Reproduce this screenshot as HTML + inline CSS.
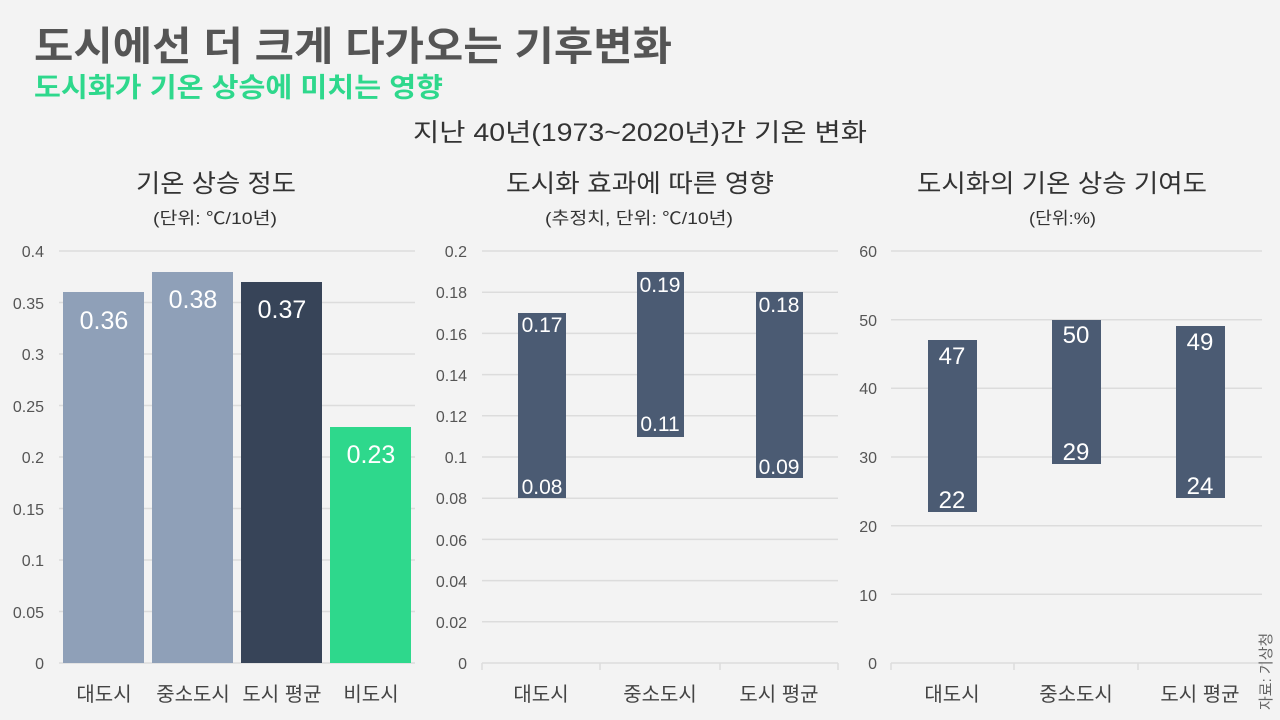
<!DOCTYPE html>
<html><head><meta charset="utf-8"><style>
body{margin:0;background:#f3f3f3;}
svg{display:block;font-family:"Liberation Sans","Noto Sans CJK KR",sans-serif;}
</style></head><body>
<svg width="1280" height="720" viewBox="0 0 1280 720">
<rect width="1280" height="720" fill="#f3f3f3"/>
<text x="34" y="60" font-size="40" font-weight="bold" fill="#555" textLength="638" lengthAdjust="spacingAndGlyphs">도시에선 더 크게 다가오는 기후변화</text>
<text x="34" y="97" font-size="27" font-weight="bold" fill="#2ed88c" textLength="409" lengthAdjust="spacingAndGlyphs">도시화가 기온 상승에 미치는 영향</text>
<text x="413" y="141" font-size="25" fill="#333" textLength="454" lengthAdjust="spacingAndGlyphs">지난 40년(1973~2020년)간 기온 변화</text>

<g fill="#333">
<text x="136" y="192" font-size="25" textLength="160" lengthAdjust="spacingAndGlyphs">기온 상승 정도</text>
<text x="153" y="224" font-size="17" textLength="124" lengthAdjust="spacingAndGlyphs">(단위: ℃/10년)</text>
<text x="506" y="192" font-size="25" textLength="268" lengthAdjust="spacingAndGlyphs">도시화 효과에 따른 영향</text>
<text x="545" y="224" font-size="17" textLength="188" lengthAdjust="spacingAndGlyphs">(추정치, 단위: ℃/10년)</text>
<text x="917" y="192" font-size="25" textLength="290" lengthAdjust="spacingAndGlyphs">도시화의 기온 상승 기여도</text>
<text x="1029" y="224" font-size="17" textLength="67" lengthAdjust="spacingAndGlyphs">(단위:%)</text>
</g>

<!-- chart 1 -->
<g stroke="#dcdcdc" stroke-width="1.5">
<line x1="59" x2="415" y1="251" y2="251"/><line x1="59" x2="415" y1="302.5" y2="302.5"/>
<line x1="59" x2="415" y1="354" y2="354"/><line x1="59" x2="415" y1="405.5" y2="405.5"/>
<line x1="59" x2="415" y1="457" y2="457"/><line x1="59" x2="415" y1="508.5" y2="508.5"/>
<line x1="59" x2="415" y1="560" y2="560"/><line x1="59" x2="415" y1="611.5" y2="611.5"/>
<line x1="59" x2="415" y1="663" y2="663"/>
</g>
<g font-size="16" fill="#555" text-anchor="end">
<text x="44" y="257">0.4</text><text x="44" y="309">0.35</text><text x="44" y="360">0.3</text>
<text x="44" y="412">0.25</text><text x="44" y="463">0.2</text><text x="44" y="515">0.15</text>
<text x="44" y="566">0.1</text><text x="44" y="618">0.05</text><text x="44" y="669">0</text>
</g>
<rect x="63" y="292" width="81" height="371" fill="#8fa0b8"/>
<rect x="152" y="272" width="81" height="391" fill="#8fa0b8"/>
<rect x="241" y="282" width="81" height="381" fill="#374458"/>
<rect x="330" y="427" width="81" height="236" fill="#2ed88c"/>
<g font-size="25" fill="#fff" text-anchor="middle">
<text x="104" y="329">0.36</text><text x="193" y="308">0.38</text>
<text x="282" y="318">0.37</text><text x="371" y="463">0.23</text>
</g>
<g font-size="20" fill="#444" text-anchor="middle">
<text x="104" y="701">대도시</text><text x="193" y="701">중소도시</text>
<text x="282" y="701">도시 평균</text><text x="371" y="701">비도시</text>
</g>

<!-- chart 2 -->
<g stroke="#dcdcdc" stroke-width="1.5">
<line x1="482" x2="838" y1="251" y2="251"/><line x1="482" x2="838" y1="292.2" y2="292.2"/>
<line x1="482" x2="838" y1="333.4" y2="333.4"/><line x1="482" x2="838" y1="374.6" y2="374.6"/>
<line x1="482" x2="838" y1="415.8" y2="415.8"/><line x1="482" x2="838" y1="457" y2="457"/>
<line x1="482" x2="838" y1="498.2" y2="498.2"/><line x1="482" x2="838" y1="539.4" y2="539.4"/>
<line x1="482" x2="838" y1="580.6" y2="580.6"/><line x1="482" x2="838" y1="621.8" y2="621.8"/>
<line x1="482" x2="838" y1="663" y2="663"/>
<line x1="482" x2="482" y1="663" y2="670"/><line x1="600" x2="600" y1="663" y2="670"/>
<line x1="720" x2="720" y1="663" y2="670"/><line x1="838" x2="838" y1="663" y2="670"/>
</g>
<g font-size="16" fill="#555" text-anchor="end">
<text x="467" y="257">0.2</text><text x="467" y="298">0.18</text><text x="467" y="340">0.16</text>
<text x="467" y="381">0.14</text><text x="467" y="422">0.12</text><text x="467" y="463">0.1</text>
<text x="467" y="504">0.08</text><text x="467" y="546">0.06</text><text x="467" y="587">0.04</text>
<text x="467" y="628">0.02</text><text x="467" y="669">0</text>
</g>
<rect x="518" y="313" width="48" height="185" fill="#4b5b73"/>
<rect x="637" y="272" width="47" height="165" fill="#4b5b73"/>
<rect x="756" y="292" width="47" height="186" fill="#4b5b73"/>
<g font-size="21" fill="#fff" text-anchor="middle">
<text x="542" y="332">0.17</text><text x="542" y="494">0.08</text>
<text x="660" y="292">0.19</text><text x="660" y="431">0.11</text>
<text x="779" y="312">0.18</text><text x="779" y="474">0.09</text>
</g>
<g font-size="20" fill="#444" text-anchor="middle">
<text x="541" y="701">대도시</text><text x="660" y="701">중소도시</text><text x="779" y="701">도시 평균</text>
</g>

<!-- chart 3 -->
<g stroke="#dcdcdc" stroke-width="1.5">
<line x1="891" x2="1262" y1="251" y2="251"/><line x1="891" x2="1262" y1="319.7" y2="319.7"/>
<line x1="891" x2="1262" y1="388.3" y2="388.3"/><line x1="891" x2="1262" y1="457" y2="457"/>
<line x1="891" x2="1262" y1="525.7" y2="525.7"/><line x1="891" x2="1262" y1="594.3" y2="594.3"/>
<line x1="891" x2="1262" y1="663" y2="663"/>
<line x1="891" x2="891" y1="663" y2="670"/><line x1="1014" x2="1014" y1="663" y2="670"/>
<line x1="1138" x2="1138" y1="663" y2="670"/><line x1="1262" x2="1262" y1="663" y2="670"/>
</g>
<g font-size="16" fill="#555" text-anchor="end">
<text x="877" y="257">60</text><text x="877" y="326">50</text><text x="877" y="394">40</text>
<text x="877" y="463">30</text><text x="877" y="532">20</text><text x="877" y="601">10</text>
<text x="877" y="669">0</text>
</g>
<rect x="928" y="340" width="49" height="172" fill="#4b5b73"/>
<rect x="1052" y="320" width="49" height="144" fill="#4b5b73"/>
<rect x="1176" y="326" width="49" height="172" fill="#4b5b73"/>
<g font-size="24" fill="#fff" text-anchor="middle">
<text x="952" y="364">47</text><text x="952" y="508">22</text>
<text x="1076" y="343">50</text><text x="1076" y="460">29</text>
<text x="1200" y="350">49</text><text x="1200" y="494">24</text>
</g>
<g font-size="20" fill="#444" text-anchor="middle">
<text x="952" y="701">대도시</text><text x="1076" y="701">중소도시</text><text x="1200" y="701">도시 평균</text>
</g>
<text transform="translate(1271,710) rotate(-90)" font-size="15" fill="#666">자료: 기상청</text>
</svg>
</body></html>
